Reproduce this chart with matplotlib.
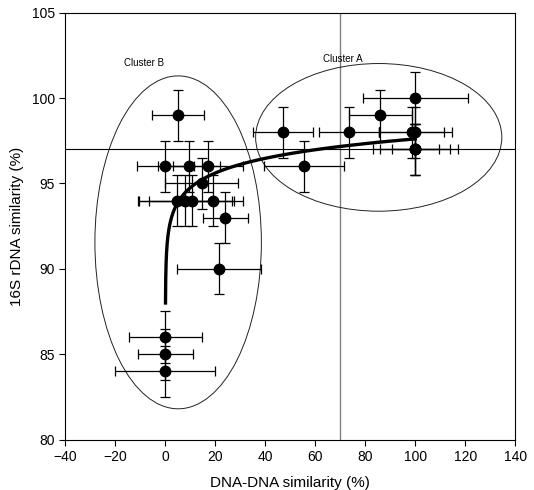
import numpy as np
import matplotlib
matplotlib.use("Agg")
import matplotlib.pyplot as plt
from matplotlib.patches import Ellipse

plt.rcParams["font.family"] = ["Liberation Sans", "DejaVu Sans"]

# Cluster B points
b_x = [5, 0, 9.5, 17, 14.5, 4.5, 8, 10.5, 19, 24, 21.5, 0, 0, 0]
b_y = [99, 96, 96, 96, 95, 94, 94, 94, 94, 93, 90, 86, 85, 84]
b_xerr = [10.5, 11.5, 12.5, 14, 14.5, 15.5, 18.5, 17, 12, 9, 16.8, 14.6, 11, 20]
b_yerr = [1.5] * len(b_x)

# Cluster A points
a_x = [100, 86, 47, 73.5, 98.5, 100, 55.5, 100, 100, 100]
a_y = [100, 99, 98, 98, 98, 98, 96, 97, 97, 97]
a_xerr = [21, 12.5, 12, 12, 13, 14.5, 16, 17, 14, 9.5]
a_yerr = [1.5] * len(a_x)

# logarithmic fit y = fit_a + fit_b * ln(x)
fit_a = 91.9
fit_b = 1.24
fit_xmin, fit_xmax = 0.043, 100

fig = plt.figure(figsize=(5.34, 4.90), dpi=100)
ax = fig.add_axes([0.1225, 0.103, 0.8425, 0.871])

ax.axvline(70, color="#808080", lw=1.0, zorder=1)
ax.axhline(97, color="black", lw=0.8, zorder=1)

for xs, ys, xe, ye in [(b_x, b_y, b_xerr, b_yerr), (a_x, a_y, a_xerr, a_yerr)]:
    ax.errorbar(xs, ys, xerr=xe, yerr=ye, fmt="o", color="black",
                ms=7.5, elinewidth=0.9, capsize=3.5, capthick=0.9, zorder=3)

fx = np.geomspace(fit_xmin, fit_xmax, 400)
ax.plot(fx, fit_a + fit_b * np.log(fx), color="black", lw=2.4, zorder=4)

ax.add_patch(Ellipse((5.1, 91.55), 66.6, 19.5, fill=False, lw=0.7, color="#222222"))
ax.add_patch(Ellipse((85.35, 97.7), 98.5, 8.65, fill=False, lw=0.7, color="#222222"))
ax.text(-8.5, 102.05, "Cluster B", fontsize=7, ha="center", va="center")
ax.text(71, 102.3, "Cluster A", fontsize=7, ha="center", va="center")

ax.set_xlim(-40, 140)
ax.set_ylim(80, 105)
ax.set_xticks(np.arange(-40, 141, 20))
ax.set_yticks(np.arange(80, 106, 5))
ax.tick_params(labelsize=10, direction="out", length=4, top=False, right=False)
ax.set_xlabel("DNA-DNA similarity (%)", fontsize=11, labelpad=9)
ax.set_ylabel("16S rDNA similarity (%)", fontsize=11, labelpad=6)

fig.savefig("out.png", dpi=100)
